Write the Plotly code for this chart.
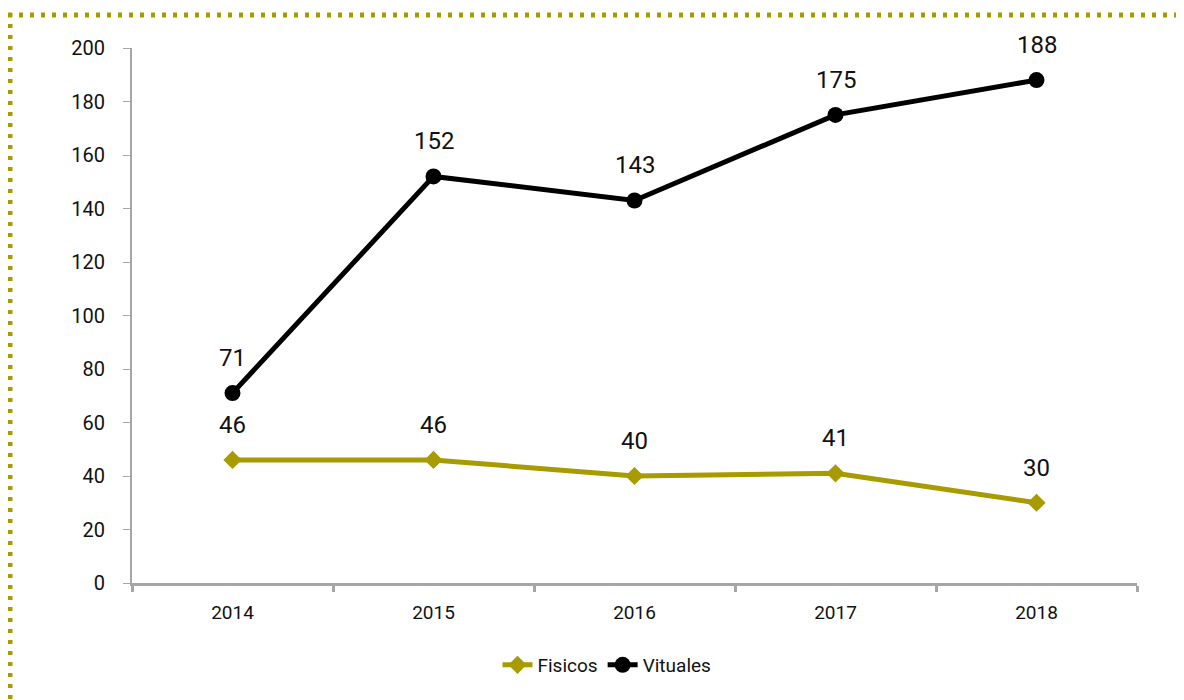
import plotly.graph_objects as go

years = ["2014", "2015", "2016", "2017", "2018"]
fisicos = [46, 46, 40, 41, 30]
vituales = [71, 152, 143, 175, 188]
yticks = [0, 20, 40, 60, 80, 100, 120, 140, 160, 180, 200]

OLIVE = "#A89B00"
FONT = "Roboto, sans-serif"

fig = go.Figure()
fig.add_trace(go.Scatter(
    x=years, y=fisicos, name="Fisicos", mode="lines+markers",
    line=dict(color=OLIVE, width=5),
    marker=dict(symbol="diamond", size=14, color=OLIVE),
))
fig.add_trace(go.Scatter(
    x=years, y=vituales, name="Vituales", mode="lines+markers",
    line=dict(color="#000000", width=5),
    marker=dict(symbol="circle", size=16, color="#000000"),
))

annotations = []
for series in (fisicos, vituales):
    for i, v in enumerate(series):
        annotations.append(dict(x=i, y=v, xref="x", yref="y", text=str(v),
                                showarrow=False, yshift=35,
                                font=dict(size=24, color="#111111", family=FONT)))

# page is offset by 8px body margin
OFF = 8
L, R, T, B = 132 - OFF, 55, 48 - OFF, 125
W, H = 1184, 700
pw, ph = W - L - R, H - T - B

def px_x(p):
    return (p - OFF - L) / pw

def px_y(p):
    return (H - B - (p - OFF)) / ph

fig.update_layout(
    width=W, height=H,
    margin=dict(l=L, r=R, t=T, b=B),
    paper_bgcolor="white", plot_bgcolor="white",
    font=dict(family=FONT, size=18, color="#111111"),
    showlegend=True,
    legend=dict(orientation="h", x=px_x(607), xanchor="center", y=px_y(665), yanchor="middle",
                font=dict(size=19, family=FONT), traceorder="normal"),
    xaxis=dict(
        type="category", showgrid=False, showline=True, linecolor="#A6A6A6", linewidth=3,
        ticks="outside", tickson="boundaries", ticklen=6, tickcolor="#A6A6A6", tickwidth=3,
        tickfont=dict(size=19, family=FONT), ticklabelstandoff=10,
        range=[-0.5, 4.5], fixedrange=True,
    ),
    yaxis=dict(
        range=[0, 200], tickvals=yticks, showgrid=False, showline=True,
        linecolor="#A6A6A6", linewidth=2, ticks="outside", ticklen=7, tickcolor="#A6A6A6",
        tickwidth=1, tickfont=dict(size=20, family=FONT), ticklabelstandoff=14, zeroline=False,
    ),
    annotations=annotations,
    shapes=[
        dict(type="line", xref="paper", yref="paper",
             x0=px_x(8), x1=px_x(1200), y0=px_y(15), y1=px_y(15),
             line=dict(color=OLIVE, width=5, dash="4px,7px")),
        dict(type="line", xref="paper", yref="paper",
             x0=px_x(10), x1=px_x(10), y0=px_y(13), y1=px_y(720),
             line=dict(color=OLIVE, width=5, dash="4px,7px")),
    ],
)

fig.write_html("out.html")
